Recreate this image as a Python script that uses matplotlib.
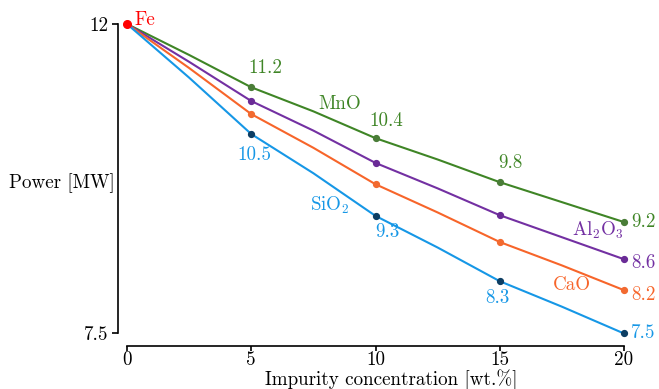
import matplotlib
matplotlib.use("Agg")
import matplotlib.pyplot as plt

# =========================
# DATA
# =========================
conc = [0, 2.5, 5, 7.5, 10, 12.5, 15, 17.5, 20]

mno = [12.0, 11.55, 11.08, 10.73, 10.34, 10.03, 9.70, 9.41, 9.12]
al2o3 = [12.0, 11.45, 10.88, 10.45, 9.98, 9.61, 9.22, 8.90, 8.58]
cao = [12.0, 11.36, 10.69, 10.20, 9.67, 9.26, 8.83, 8.49, 8.13]
sio2 = [12.0, 11.22, 10.40, 9.83, 9.21, 8.75, 8.26, 7.89, 7.50]

fe_conc = 0
fe_power = 12.0

x_ticks = [0, 5, 10, 15, 20]
y_ticks = [7.5, 12]
y_tick_labels = ["7.5", "12"]

# value labels: (text, x, y)
mno_labels = [("11.2", 5.55, 11.36), ("10.4", 10.42, 10.59), ("9.8", 15.41, 9.98)]
sio2_labels = [("10.5", 5.11, 10.10), ("9.3", 10.5, 8.98), ("8.3", 14.89, 8.02)]
end_labels = [("9.2", 9.12), ("8.6", 8.53), ("8.2", 8.06), ("7.5", 7.50)]

# =========================
# STYLE
# =========================
plt.rcParams["font.family"] = ["cmr10", "DejaVu Serif"]
plt.rcParams["mathtext.fontset"] = "cm"
plt.rcParams["axes.unicode_minus"] = False

green = "#3f8526"
purple = "#7330a2"
orange = "#f7652a"
blue = "#1697e6"
fs = 13.7

fig = plt.figure(figsize=(6.59, 3.89), dpi=100)
ax = fig.add_axes([127 / 659, 0.1427, 497 / 659, 0.7956])

series = [
    (mno, green, "#4a7d38"),
    (al2o3, purple, "#6a2b96"),
    (cao, orange, "#f26a30"),
    (sio2, blue, "#0d3e63"),
]
for vals, col, mcol in series:
    ax.plot(conc, vals, color=col, linewidth=1.5, marker="o", markersize=4.2,
            markevery=[2, 4, 6, 8], markerfacecolor=mcol, markeredgecolor=mcol,
            clip_on=False, zorder=3)

ax.plot([fe_conc], [fe_power], "o", color="#ff0000", markersize=5.5,
        clip_on=False, zorder=4)
ax.text(0.3, 12.06, "Fe", color="#ff0000", fontsize=fs, va="center", ha="left")

# =========================
# LABELS ON LINES
# =========================
for txt, x, y in mno_labels:
    ax.text(x, y, txt, color=green, fontsize=fs, ha="center", va="center")
for txt, x, y in sio2_labels:
    ax.text(x, y, txt, color=blue, fontsize=fs, ha="center", va="center")

end_colors = [green, purple, orange, blue]
for (txt, y), col in zip(end_labels, end_colors):
    ax.text(20.3, y, txt, color=col, fontsize=fs, ha="left", va="center")

ax.text(8.57, 10.84, "MnO", color=green, fontsize=fs, ha="center", va="center")
ax.text(18.95, 9.0, r"Al$\mathregular{_2}$O$\mathregular{_3}$", color=purple,
        fontsize=fs, ha="center", va="center")
ax.text(17.9, 8.21, "CaO", color=orange, fontsize=fs, ha="center", va="center")
ax.text(8.17, 9.37, r"SiO$\mathregular{_2}$", color=blue, fontsize=fs,
        ha="center", va="center")

# =========================
# AXES
# =========================
ax.set_xlim(0, 20)
ax.set_ylim(7.5, 12)
ax.set_xticks(x_ticks)
ax.set_yticks(y_ticks)
ax.set_yticklabels(y_tick_labels)
ax.tick_params(labelsize=fs, direction="out", width=1.2)
ax.tick_params(axis="x", length=3.5, pad=0.5)
ax.tick_params(axis="y", length=4, pad=3)

for side in ["top", "right"]:
    ax.spines[side].set_visible(False)
ax.spines["left"].set_position(("outward", 6.5))
ax.spines["bottom"].set_position(("outward", 9))
ax.spines["left"].set_bounds(7.5, 12)
ax.spines["bottom"].set_bounds(0, 20)
ax.spines["left"].set_linewidth(1.2)
ax.spines["bottom"].set_linewidth(1.2)

ax.set_xlabel("Impurity concentration [wt.%]", fontsize=fs, labelpad=0)
ax.xaxis.label.set_x((391 - 127) / 497)
fig.text(115 / 659, (389 - 183) / 389, "Power [MW]", fontsize=fs,
         ha="right", va="center")

fig.savefig("out.png", dpi=100)
